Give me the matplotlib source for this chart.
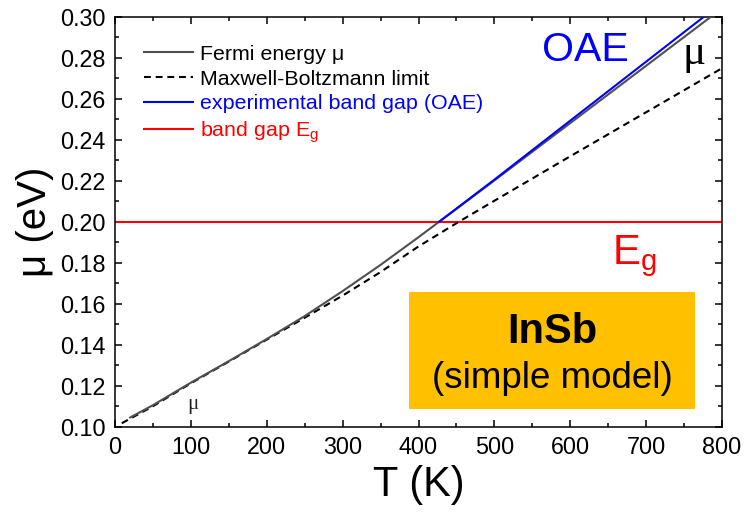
import matplotlib
matplotlib.use("Agg")
import matplotlib.pyplot as plt
from matplotlib.patches import Rectangle
from matplotlib.ticker import MultipleLocator, FormatStrFormatter

plt.rcParams['font.family'] = ['Liberation Sans', 'DejaVu Sans']
plt.rcParams['mathtext.fontset'] = 'custom'
plt.rcParams['mathtext.rm'] = 'Liberation Sans'

# ---- data ----
T_fermi = [20, 50, 100, 150, 200, 250, 300, 350, 400, 427, 450, 500, 550, 600, 650, 700, 750, 800]
mu_fermi = [0.1045, 0.1105, 0.1215, 0.1320, 0.1428, 0.1540, 0.1662, 0.1790, 0.1925, 0.2000,
            0.2063, 0.2202, 0.2342, 0.2482, 0.2622, 0.2762, 0.2902, 0.3042]

T_mb = [9, 50, 100, 150, 200, 250, 300, 350, 400, 453, 500, 600, 700, 800]
mu_mb = [0.1017, 0.1100, 0.1212, 0.1318, 0.1425, 0.1532, 0.1640, 0.1755, 0.1880, 0.2000,
         0.2103, 0.2320, 0.2535, 0.2750]

T_oae = [427, 500, 600, 700, 800]
mu_oae = [0.2000, 0.2206, 0.2494, 0.2782, 0.3070]

E_gap = 0.20

labels = ['Fermi energy μ', 'Maxwell-Boltzmann limit',
          'experimental band gap (OAE)', r'band gap E$_\mathregular{g}$']
label_colors = ['black', 'black', '#0000FF', '#FF0000']

x_ticks = [0, 100, 200, 300, 400, 500, 600, 700, 800]
y_ticks = [0.10, 0.12, 0.14, 0.16, 0.18, 0.20, 0.22, 0.24, 0.26, 0.28, 0.30]

# ---- figure ----
fig = plt.figure(figsize=(7.45, 5.24), dpi=100)
ax = fig.add_axes([115 / 745, 1 - 426.7 / 524, 607 / 745, 409.7 / 524])

lw = 1.5
l1, = ax.plot(T_fermi, mu_fermi, color='#505050', lw=lw, zorder=4)
l2, = ax.plot(T_mb, mu_mb, color='black', lw=lw, ls=(0, (3.3, 2.3)), zorder=3)
l3, = ax.plot(T_oae, mu_oae, color='#0000FF', lw=lw, zorder=5)
l4 = ax.axhline(E_gap, color='#FF0000', lw=lw, zorder=2)

ax.set_xlim(x_ticks[0], x_ticks[-1])
ax.set_ylim(y_ticks[0], y_ticks[-1])
ax.set_xticks(x_ticks)
ax.set_yticks(y_ticks)
ax.xaxis.set_minor_locator(MultipleLocator(50))
ax.yaxis.set_minor_locator(MultipleLocator(0.01))
ax.yaxis.set_major_formatter(FormatStrFormatter('%.2f'))
ax.tick_params(which='both', direction='in', top=True, right=True, width=1.1)
ax.tick_params(which='major', length=5, labelsize=16.8, pad=7)
ax.tick_params(which='minor', length=3)
for s in ax.spines.values():
    s.set_linewidth(1.1)

ax.set_xlabel('T (K)', fontsize=30, labelpad=4)
ax.set_ylabel('μ (eV)', fontsize=29, labelpad=4)

leg = ax.legend([l1, l2, l3, l4], labels, loc='upper left',
                bbox_to_anchor=(0.0478, 0.932), frameon=False, fontsize=15.4,
                borderpad=0, borderaxespad=0, handlelength=2.3, handletextpad=0.31,
                labelspacing=0.27, labelcolor=label_colors)

# annotation box
ax.add_patch(Rectangle((388, 0.1085), 376.5, 0.0571, facecolor='#FFC000',
                       edgecolor='none', zorder=1))
ax.text(577, 0.1408, 'InSb', fontsize=30, fontweight='bold', ha='center',
        va='baseline', zorder=6)
ax.text(577, 0.1188, '(simple model)', fontsize=26.5, ha='center',
        va='baseline', zorder=6)

# labels in plot
ax.text(620, 0.2784, 'OAE', fontsize=29.5, color='#0000FF', ha='center', va='baseline')
ax.text(655, 0.1796, r'E$_\mathregular{g}$', fontsize=30, color='#FF0000',
        ha='left', va='baseline')
ax.text(763, 0.2769, 'μ', fontsize=31, family='Liberation Serif', ha='center',
        va='baseline')
ax.text(102.6, 0.1088, 'μ', fontsize=15, family='Liberation Serif', ha='center',
        va='baseline', color='#222222')

fig.savefig('out.png', dpi=100)
